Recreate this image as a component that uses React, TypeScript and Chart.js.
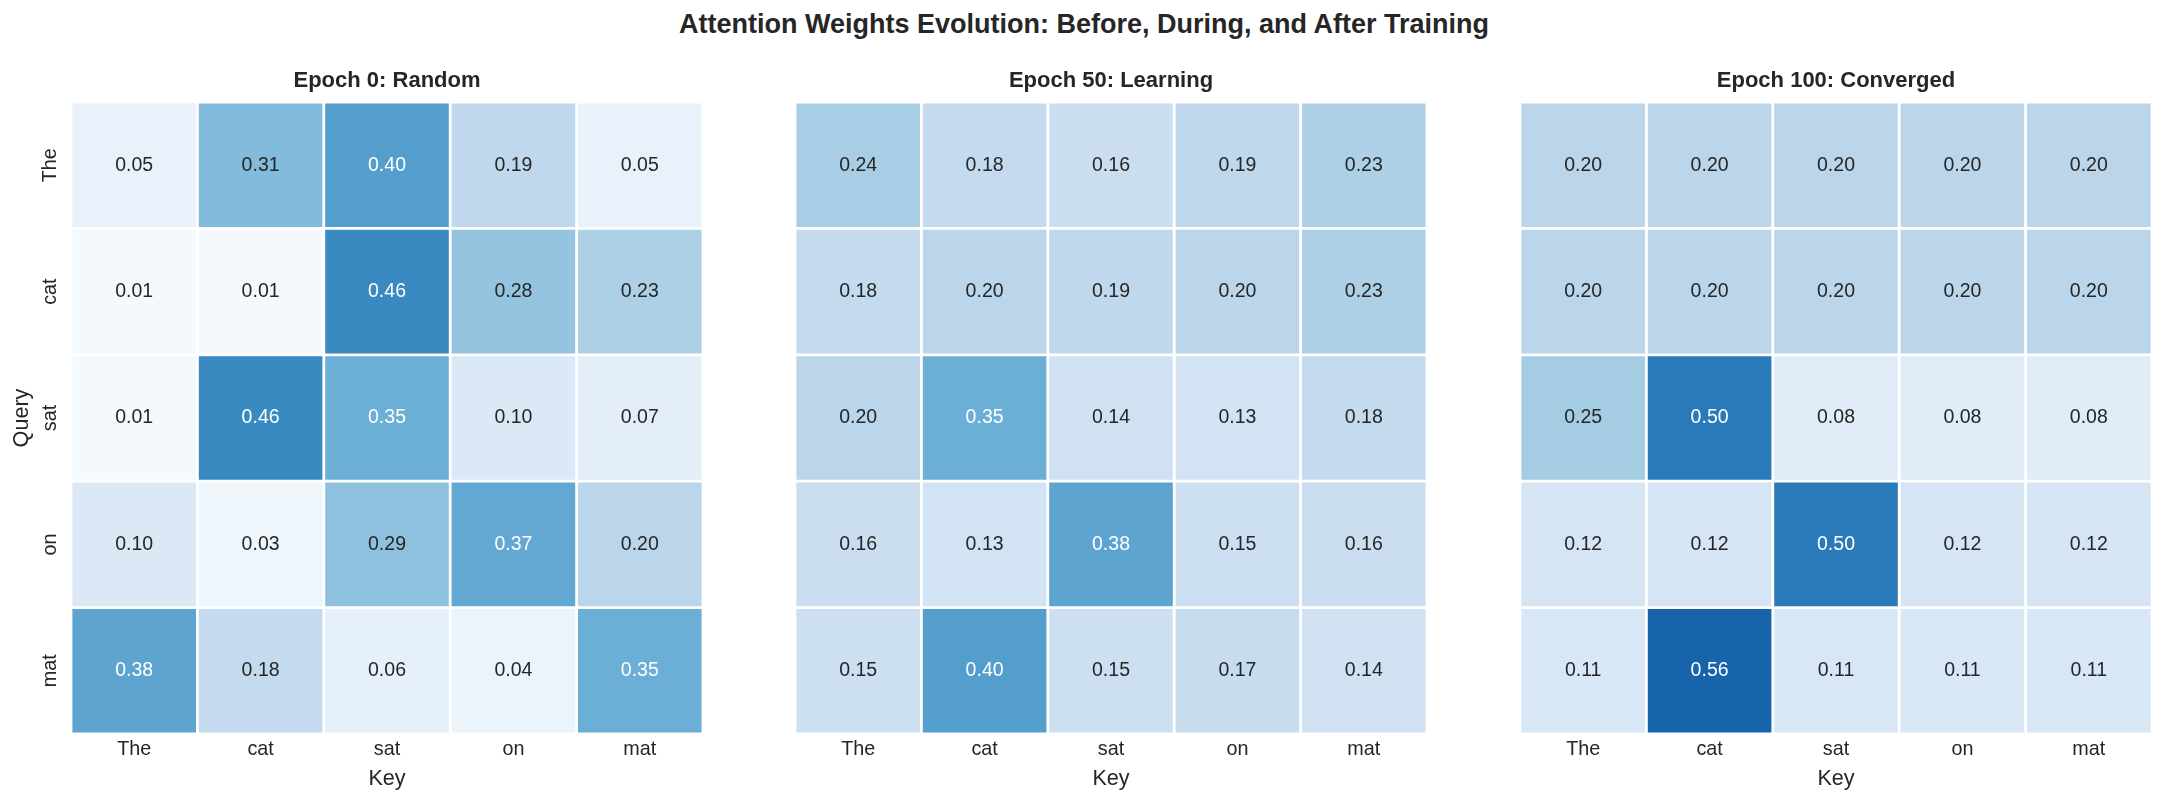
import React, { useEffect, useRef } from "react";
import { Chart, registerables } from "chart.js";

Chart.register(...registerables);

// Tokens used for both the query (rows) and key (columns) axes
const TOKENS = ["The", "cat", "sat", "on", "mat"];

// Attention weight matrices, rows = query token, columns = key token
const EPOCH_0 = [
  [0.05, 0.31, 0.4, 0.19, 0.05],
  [0.01, 0.01, 0.46, 0.28, 0.23],
  [0.01, 0.46, 0.35, 0.1, 0.07],
  [0.1, 0.03, 0.29, 0.37, 0.2],
  [0.38, 0.18, 0.06, 0.04, 0.35],
];
const EPOCH_50 = [
  [0.24, 0.18, 0.16, 0.19, 0.23],
  [0.18, 0.2, 0.19, 0.2, 0.23],
  [0.2, 0.35, 0.14, 0.13, 0.18],
  [0.16, 0.13, 0.38, 0.15, 0.16],
  [0.15, 0.4, 0.15, 0.17, 0.14],
];
const EPOCH_100 = [
  [0.2, 0.2, 0.2, 0.2, 0.2],
  [0.2, 0.2, 0.2, 0.2, 0.2],
  [0.25, 0.5, 0.08, 0.08, 0.08],
  [0.12, 0.12, 0.5, 0.12, 0.12],
  [0.11, 0.56, 0.11, 0.11, 0.11],
];

const PANEL_TITLES = ["Epoch 0: Random", "Epoch 50: Learning", "Epoch 100: Converged"];
const MATRICES = [EPOCH_0, EPOCH_50, EPOCH_100];
const SUPTITLE = "Attention Weights Evolution: Before, During, and After Training";
const X_LABEL = "Key";
const Y_LABEL = "Query";

// Colour scale range
const V_MIN = 0;
const V_MAX = 0.7;

// Sequential "Blues" colour ramp
const BLUES: number[][] = [
  [247, 251, 255],
  [222, 235, 247],
  [198, 219, 239],
  [158, 202, 225],
  [107, 174, 214],
  [66, 146, 198],
  [33, 113, 181],
  [8, 81, 156],
  [8, 48, 107],
];

const FONT = '"Liberation Sans", Arial, Helvetica, sans-serif';
const TEXT_DARK = "#262626";

function bluesRgb(v: number): number[] {
  let t = (v - V_MIN) / (V_MAX - V_MIN);
  t = Math.max(0, Math.min(1, t));
  const pos = t * (BLUES.length - 1);
  const i = Math.min(BLUES.length - 2, Math.floor(pos));
  const f = pos - i;
  const a = BLUES[i];
  const b = BLUES[i + 1];
  return [0, 1, 2].map((k) => Math.round(a[k] + (b[k] - a[k]) * f));
}

function rgbStr(c: number[]): string {
  return `rgb(${c[0]},${c[1]},${c[2]})`;
}

function luminance(c: number[]): number {
  const lin = c.map((x) => {
    const s = x / 255;
    return s <= 0.03928 ? s / 12.92 : Math.pow((s + 0.055) / 1.055, 2.4);
  });
  return 0.2126 * lin[0] + 0.7152 * lin[1] + 0.0722 * lin[2];
}

// Layout of the three panels (canvas-local plot area is fixed by padding)
const PANEL_LEFTS = [71, 795, 1520];
const PAD_LEFT = 71;
const PAD_RIGHT = 16;
const PAD_TOP = 102;
const X_AXIS_HEIGHT = 70;
const PLOT_SIZE = 632;
const CANVAS_W = PAD_LEFT + PLOT_SIZE + PAD_RIGHT;
const CANVAS_H = 804;

function Heatmap({ index }: { index: number }) {
  const ref = useRef<HTMLCanvasElement | null>(null);

  useEffect(() => {
    const canvas = ref.current;
    if (!canvas) return;
    const matrix = MATRICES[index];

    const datasets = TOKENS.map((q, r) => ({
      label: q,
      data: TOKENS.map(() => [r, r + 1]),
      backgroundColor: matrix[r].map((v) => rgbStr(bluesRgb(v))),
      borderColor: "#ffffff",
      borderWidth: 1.4,
      borderSkipped: false,
      inflateAmount: 0,
      grouped: false,
      barPercentage: 1,
      categoryPercentage: 1,
    }));

    const annotate = {
      id: "cellText",
      afterDatasetsDraw(chart: any) {
        const { ctx, scales } = chart;
        const xs = scales.x;
        const ys = scales.y;
        ctx.save();
        ctx.font = `19.5px ${FONT}`;
        ctx.textAlign = "center";
        ctx.textBaseline = "middle";
        matrix.forEach((row, r) => {
          row.forEach((v, c) => {
            const col = bluesRgb(v);
            ctx.fillStyle = luminance(col) > 0.408 ? TEXT_DARK : "#ffffff";
            ctx.fillText(v.toFixed(2), xs.getPixelForValue(c), ys.getPixelForValue(r + 0.5));
          });
        });
        ctx.restore();
      },
      afterDraw(chart: any) {
        const { ctx, chartArea, scales } = chart;
        const ys = scales.y;
        ctx.save();
        ctx.fillStyle = TEXT_DARK;
        ctx.textAlign = "center";
        ctx.textBaseline = "middle";
        ctx.font = `bold 22px ${FONT}`;
        ctx.fillText(PANEL_TITLES[index], (chartArea.left + chartArea.right) / 2, 81);
        if (index === 0) {
          ctx.font = `19.8px ${FONT}`;
          TOKENS.forEach((t, r) => {
            ctx.save();
            ctx.translate(chartArea.left - 20.6, ys.getPixelForValue(r + 0.5));
            ctx.rotate(-Math.PI / 2);
            ctx.fillText(t, 0, 0);
            ctx.restore();
          });
          ctx.font = `21.6px ${FONT}`;
          ctx.save();
          ctx.translate(22, (chartArea.top + chartArea.bottom) / 2);
          ctx.rotate(-Math.PI / 2);
          ctx.fillText(Y_LABEL, 0, 0);
          ctx.restore();
        }
        ctx.restore();
      },
    };

    const chart = new Chart(canvas, {
      type: "bar",
      data: { labels: TOKENS, datasets: datasets as any },
      options: {
        responsive: false,
        animation: false,
        events: [],
        layout: { padding: { left: PAD_LEFT, right: PAD_RIGHT, top: PAD_TOP, bottom: 0 } },
        plugins: {
          legend: { display: false },
          tooltip: { enabled: false },
          title: { display: false },
        },
        scales: {
          x: {
            type: "category",
            offset: true,
            grid: { display: false, drawTicks: false },
            border: { display: false },
            ticks: {
              color: TEXT_DARK,
              font: { family: FONT, size: 19.8 },
              padding: 4,
              maxRotation: 0,
              minRotation: 0,
            },
            title: {
              display: true,
              text: X_LABEL,
              color: TEXT_DARK,
              font: { family: FONT, size: 21.6 },
              padding: { top: 0, bottom: 11.5 },
            },
            afterFit: (s: any) => {
              s.height = X_AXIS_HEIGHT;
            },
          },
          y: {
            type: "linear",
            min: 0,
            max: TOKENS.length,
            reverse: true,
            display: false,
          },
        },
      } as any,
      plugins: [annotate],
    });

    return () => chart.destroy();
  }, [index]);

  return (
    <canvas
      ref={ref}
      width={CANVAS_W}
      height={CANVAS_H}
      style={{
        position: "absolute",
        left: PANEL_LEFTS[index] - PAD_LEFT,
        top: 0,
        width: CANVAS_W,
        height: CANVAS_H,
      }}
    />
  );
}

export default function App() {
  return (
    <div
      style={{
        position: "absolute",
        left: 0,
        top: 0,
        width: 2168,
        height: 804,
        background: "#ffffff",
        overflow: "hidden",
      }}
    >
      <div
        style={{
          position: "absolute",
          left: 0,
          top: 8,
          width: 2168,
          textAlign: "center",
          fontFamily: FONT,
          fontWeight: "bold",
          fontSize: 27,
          lineHeight: "32px",
          color: TEXT_DARK,
        }}
      >
        {SUPTITLE}
      </div>
      {[0, 1, 2].map((i) => (
        <Heatmap key={i} index={i} />
      ))}
    </div>
  );
}
